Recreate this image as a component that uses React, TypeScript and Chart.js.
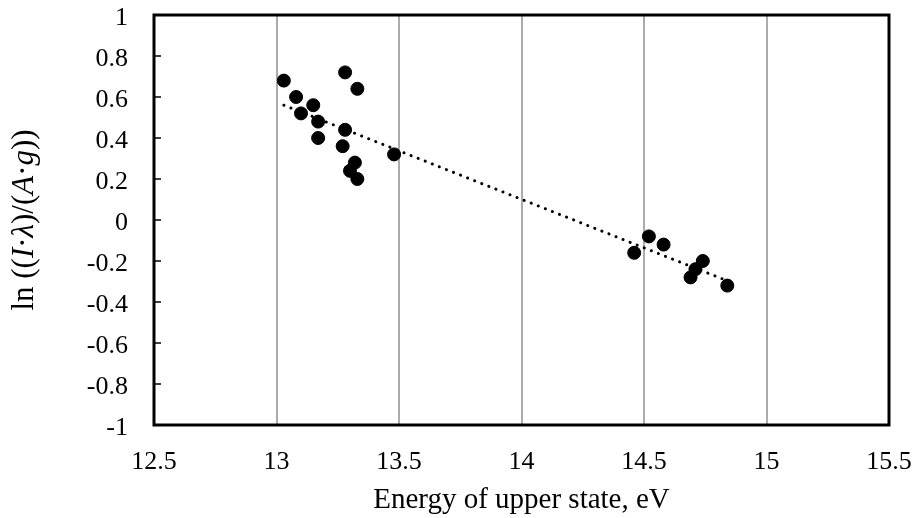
import React, { useEffect, useRef } from "react";
import { Chart, registerables } from "chart.js";

Chart.register(...registerables);

const energyX: number[] = [
  13.03, 13.08, 13.10, 13.15, 13.17, 13.17, 13.28, 13.33, 13.28, 13.27, 13.32, 13.30, 13.33, 13.48,
  14.52, 14.58, 14.46, 14.74, 14.71, 14.69, 14.84,
];
const lnY: number[] = [
  0.68, 0.60, 0.52, 0.56, 0.48, 0.40, 0.72, 0.64, 0.44, 0.36, 0.28, 0.24, 0.20, 0.32,
  -0.08, -0.12, -0.16, -0.20, -0.24, -0.28, -0.32,
];
const xTickValues: number[] = [12.5, 13, 13.5, 14, 14.5, 15, 15.5];
const xTickLabels: string[] = ["12.5", "13", "13.5", "14", "14.5", "15", "15.5"];
const yTickValues: number[] = [-1, -0.8, -0.6, -0.4, -0.2, 0, 0.2, 0.4, 0.6, 0.8, 1];
const yTickLabels: string[] = ["-1", "-0.8", "-0.6", "-0.4", "-0.2", "0", "0.2", "0.4", "0.6", "0.8", "1"];
const xTitle = "Energy of upper state, eV";
const yTitleParts: { t: string; italic: boolean }[] = [
  { t: "ln ((", italic: false },
  { t: "I", italic: true },
  { t: "·", italic: false },
  { t: "λ", italic: true },
  { t: ")/(", italic: false },
  { t: "A", italic: true },
  { t: "·", italic: false },
  { t: "g", italic: true },
  { t: "))", italic: false },
];

function linearFit(xs: number[], ys: number[]) {
  const n = xs.length;
  const mx = xs.reduce((a, b) => a + b, 0) / n;
  const my = ys.reduce((a, b) => a + b, 0) / n;
  let sxy = 0, sxx = 0;
  for (let i = 0; i < n; i++) {
    sxy += (xs[i] - mx) * (ys[i] - my);
    sxx += (xs[i] - mx) ** 2;
  }
  const slope = sxy / sxx;
  return { slope, intercept: my - slope * mx };
}

const FONT = "'Liberation Serif', 'Times New Roman', serif";
const TICK_SIZE = 26;
const TITLE_SIZE = 29;
const YTITLE_SIZE = 31;

const framePlugin = {
  id: "frame",
  afterDatasetsDraw(chart: any) {
    const { ctx, chartArea } = chart;
    const ys = chart.scales.y;
    ctx.save();
    ctx.strokeStyle = "#000";
    ctx.lineWidth = 1.5;
    yTickValues.forEach((v) => {
      const py = ys.getPixelForValue(v);
      ctx.beginPath();
      ctx.moveTo(chartArea.left, py);
      ctx.lineTo(chartArea.left + 7, py);
      ctx.stroke();
    });
    ctx.lineWidth = 3;
    ctx.strokeRect(chartArea.left, chartArea.top, chartArea.right - chartArea.left, chartArea.bottom - chartArea.top);
    ctx.translate(25, (chartArea.top + chartArea.bottom) / 2);
    ctx.rotate(-Math.PI / 2);
    ctx.fillStyle = "#000";
    ctx.textBaseline = "middle";
    let total = 0;
    const widths = yTitleParts.map((p) => {
      ctx.font = `${p.italic ? "italic " : ""}${YTITLE_SIZE}px ${FONT}`;
      const w = ctx.measureText(p.t).width;
      total += w;
      return w;
    });
    let x = -total / 2;
    yTitleParts.forEach((p, i) => {
      ctx.font = `${p.italic ? "italic " : ""}${YTITLE_SIZE}px ${FONT}`;
      ctx.textAlign = "left";
      ctx.fillText(p.t, x, 0);
      x += widths[i];
    });
    ctx.restore();
  },
};

export default function App() {
  const ref = useRef<HTMLCanvasElement | null>(null);
  useEffect(() => {
    document.body.style.margin = "0";
    if (!ref.current) return;
    const fit = linearFit(energyX, lnY);
    const xMin = Math.min(...energyX);
    const xMax = Math.max(...energyX);
    const trend = [
      { x: xMin, y: fit.slope * xMin + fit.intercept },
      { x: xMax, y: fit.slope * xMax + fit.intercept },
    ];
    const chart = new Chart(ref.current, {
      type: "scatter",
      data: {
        datasets: [
          {
            data: energyX.map((x, i) => ({ x, y: lnY[i] })),
            backgroundColor: "#000",
            borderColor: "#000",
            pointRadius: 6.5,
            pointHoverRadius: 6.5,
            order: 1,
          },
          {
            type: "line",
            data: trend,
            borderColor: "#000",
            borderWidth: 3,
            borderDash: [0.1, 7.5],
            borderCapStyle: "round",
            pointRadius: 0,
            fill: false,
            showLine: true,
            order: 0,
          } as any,
        ],
      },
      options: {
        animation: false,
        responsive: false,
        maintainAspectRatio: false,
        layout: { padding: { left: 0, top: 15, right: 28, bottom: 0 } },
        plugins: { legend: { display: false }, tooltip: { enabled: false } },
        scales: {
          x: {
            type: "linear",
            min: 12.5,
            max: 15.5,
            afterBuildTicks: (s: any) => {
              s.ticks = xTickValues.map((v) => ({ value: v }));
            },
            afterFit: (s: any) => {
              s.height = 93;
              s.paddingLeft = 0;
              s.paddingRight = 0;
            },
            grid: { display: true, color: "#ababab", lineWidth: 2, drawTicks: false },
            border: { display: false },
            ticks: {
              padding: 22,
              color: "#000",
              maxRotation: 0,
              font: { family: FONT, size: TICK_SIZE },
              callback: (_v: any, i: number) => xTickLabels[i],
            },
            title: {
              display: true,
              text: xTitle,
              color: "#000",
              font: { family: FONT, size: TITLE_SIZE },
              padding: { top: 0, bottom: 0 },
            },
          },
          y: {
            type: "linear",
            min: -1,
            max: 1,
            afterBuildTicks: (s: any) => {
              s.ticks = yTickValues.map((v) => ({ value: v }));
            },
            afterFit: (s: any) => {
              s.width = 154;
              s.paddingTop = 0;
              s.paddingBottom = 0;
            },
            grid: { display: false, drawTicks: false },
            border: { display: false },
            ticks: {
              padding: 26,
              labelOffset: 3,
              color: "#000",
              font: { family: FONT, size: TICK_SIZE },
              callback: (_v: any, i: number) => yTickLabels[i],
            },
          },
        },
      },
      plugins: [framePlugin],
    });
    return () => chart.destroy();
  }, []);
  return (
    <div style={{ width: 917, height: 518, background: "#fff" }}>
      <canvas ref={ref} width={917} height={518} style={{ display: "block" }} />
    </div>
  );
}
